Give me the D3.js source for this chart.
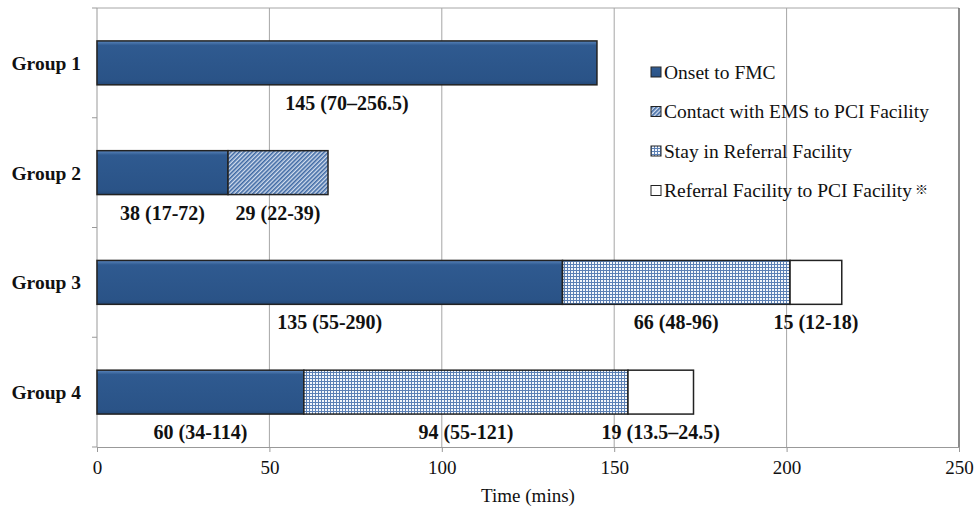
<!DOCTYPE html>
<html>
<head>
<meta charset="utf-8">
<script src="https://cdn.jsdelivr.net/npm/d3@7"></script>
<style>
  body { margin: 0; background: #fff; }
  svg { display: block; font-family: "Liberation Serif", "Times New Roman", serif; }
</style>
</head>
<body>
<svg id="chart" width="978" height="513"></svg>
<script>
// Time segments (median minutes) per patient group
const groups = ["Group 1", "Group 2", "Group 3", "Group 4"];
const seriesNames = [
  "Onset to FMC",
  "Contact with EMS to PCI Facility",
  "Stay in Referral Facility",
  "Referral Facility to PCI Facility"
];
const onsetToFMC      = [145, 38, 135, 60];
const emsToPCI        = [0, 29, 0, 0];
const stayReferral    = [0, 0, 66, 94];
const referralToPCI   = [0, 0, 15, 19];
// Median (IQR) labels, same order as the values above
const onsetLabels     = ["145 (70\u2013256.5)", "38 (17-72)", "135 (55-290)", "60 (34-114)"];
const emsLabels       = ["", "29 (22-39)", "", ""];
const stayLabels      = ["", "", "66 (48-96)", "94 (55-121)"];
const referralLabels  = ["", "", "15 (12-18)", "19 (13.5\u201324.5)"];
const xTicks = [0, 50, 100, 150, 200, 250];

const seriesValues = [onsetToFMC, emsToPCI, stayReferral, referralToPCI];
const seriesLabels = [onsetLabels, emsLabels, stayLabels, referralLabels];

const svg = d3.select("#chart");
const margin = { left: 97, right: 20, top: 8, bottom: 66 };
const W = 978, H = 513;

const x = d3.scaleLinear().domain([0, 250]).range([margin.left, W - margin.right + 1]);
const y = d3.scaleBand().domain(groups).range([margin.top, H - margin.bottom]).padding(0);

// Fills
const defs = svg.append("defs");
const grad = defs.append("linearGradient").attr("id", "gBlue")
  .attr("x1", 0).attr("y1", 0).attr("x2", 0).attr("y2", 1);
grad.append("stop").attr("offset", "0%").attr("stop-color", "#5a86bd");
grad.append("stop").attr("offset", "10%").attr("stop-color", "#2f5a90");
grad.append("stop").attr("offset", "90%").attr("stop-color", "#2a5387");
grad.append("stop").attr("offset", "100%").attr("stop-color", "#234877");

const hatch = defs.append("pattern").attr("id", "pHatch")
  .attr("patternUnits", "userSpaceOnUse").attr("width", 3).attr("height", 3)
  .attr("patternTransform", "rotate(45)");
hatch.append("rect").attr("width", 3).attr("height", 3).attr("fill", "#d3deee");
hatch.append("rect").attr("width", 1.6).attr("height", 3).attr("fill", "#3e69a4");

const grid = defs.append("pattern").attr("id", "pGrid")
  .attr("patternUnits", "userSpaceOnUse").attr("width", 3).attr("height", 3);
grid.append("rect").attr("width", 3).attr("height", 3).attr("fill", "#f4f7fb");
grid.append("rect").attr("width", 3).attr("height", 1).attr("fill", "#5b80b5");
grid.append("rect").attr("width", 1).attr("height", 3).attr("fill", "#5b80b5");

const fills = ["url(#gBlue)", "url(#pHatch)", "url(#pGrid)", "#ffffff"];

// Vertical gridlines
svg.append("g").selectAll("line").data(xTicks.slice(1, -1)).join("line")
  .attr("x1", d => x(d)).attr("x2", d => x(d))
  .attr("y1", margin.top).attr("y2", H - margin.bottom)
  .attr("stroke", "#a6a6a6").attr("stroke-width", 1);

// Plot frame: top and right edges
svg.append("line").attr("x1", margin.left).attr("x2", x(250))
  .attr("y1", margin.top).attr("y2", margin.top)
  .attr("stroke", "#a6a6a6").attr("stroke-width", 1);
svg.append("line").attr("x1", x(250)).attr("x2", x(250))
  .attr("y1", margin.top).attr("y2", H - margin.bottom)
  .attr("stroke", "#666").attr("stroke-width", 1.5);

// Axes
const xAxis = svg.append("g").attr("transform", `translate(0,${H - margin.bottom})`)
  .call(d3.axisBottom(x).tickValues(xTicks).tickSize(5).tickPadding(9));
xAxis.select(".domain").attr("stroke", "#999");
xAxis.selectAll(".tick line").attr("stroke", "#999");
xAxis.selectAll("text").attr("font-size", 19).attr("fill", "#111")
  .attr("font-family", "Liberation Serif, serif");

// Left axis with ticks at band boundaries
svg.append("line").attr("x1", margin.left).attr("x2", margin.left)
  .attr("y1", margin.top).attr("y2", H - margin.bottom)
  .attr("stroke", "#999");
const bounds = groups.map(g => y(g)).concat([y(groups[groups.length - 1]) + y.bandwidth()]);
svg.append("g").selectAll("line").data(bounds).join("line")
  .attr("x1", margin.left - 5).attr("x2", margin.left)
  .attr("y1", d => d).attr("y2", d => d).attr("stroke", "#999");
svg.append("g").selectAll("text").data(groups).join("text")
  .attr("x", 81).attr("y", d => y(d) + y.bandwidth() / 2 + 7)
  .attr("text-anchor", "end").attr("font-size", 19.5).attr("font-weight", "bold")
  .attr("fill", "#111").text(d => d);

// Stacked bars
const barH = y.bandwidth() * 0.4;
groups.forEach((g, gi) => {
  let start = 0;
  const y0 = y(g) + (y.bandwidth() - barH) / 2;
  seriesValues.forEach((vals, si) => {
    const v = vals[gi];
    if (v > 0) {
      svg.append("rect")
        .attr("x", x(start)).attr("y", y0)
        .attr("width", x(start + v) - x(start)).attr("height", barH)
        .attr("fill", fills[si]).attr("stroke", "#222").attr("stroke-width", 1.5);
      const lbl = seriesLabels[si][gi];
      if (lbl) {
        svg.append("text")
          .attr("x", (x(start) + x(start + v)) / 2)
          .attr("y", y0 + barH + 25)
          .attr("text-anchor", "middle").attr("font-size", 20)
          .attr("font-weight", "bold").attr("fill", "#111").text(lbl);
      }
    }
    start += v;
  });
});

// Axis title
svg.append("text").attr("x", (x(0) + x(250)) / 2).attr("y", 502)
  .attr("text-anchor", "middle").attr("font-size", 19).attr("fill", "#111")
  .text("Time (mins)");

// Legend
const legend = svg.append("g").attr("transform", "translate(651,72)");
seriesNames.forEach((name, i) => {
  const row = legend.append("g").attr("transform", `translate(0,${i * 39.5})`);
  row.append("rect").attr("x", 0).attr("y", -5).attr("width", 10).attr("height", 10)
    .attr("fill", fills[i]).attr("stroke", "#222").attr("stroke-width", 1);
  const t = row.append("text").attr("x", 13).attr("y", 6.5).attr("font-size", 19.5)
    .attr("fill", "#111").text(name);
  if (i === 3) {
    t.append("tspan").attr("dx", 3).attr("dy", -3).attr("font-size", 13)
      .attr("font-family", "Noto Sans CJK JP, sans-serif").text("\u203B");
  }
});
</script>
</body>
</html>
